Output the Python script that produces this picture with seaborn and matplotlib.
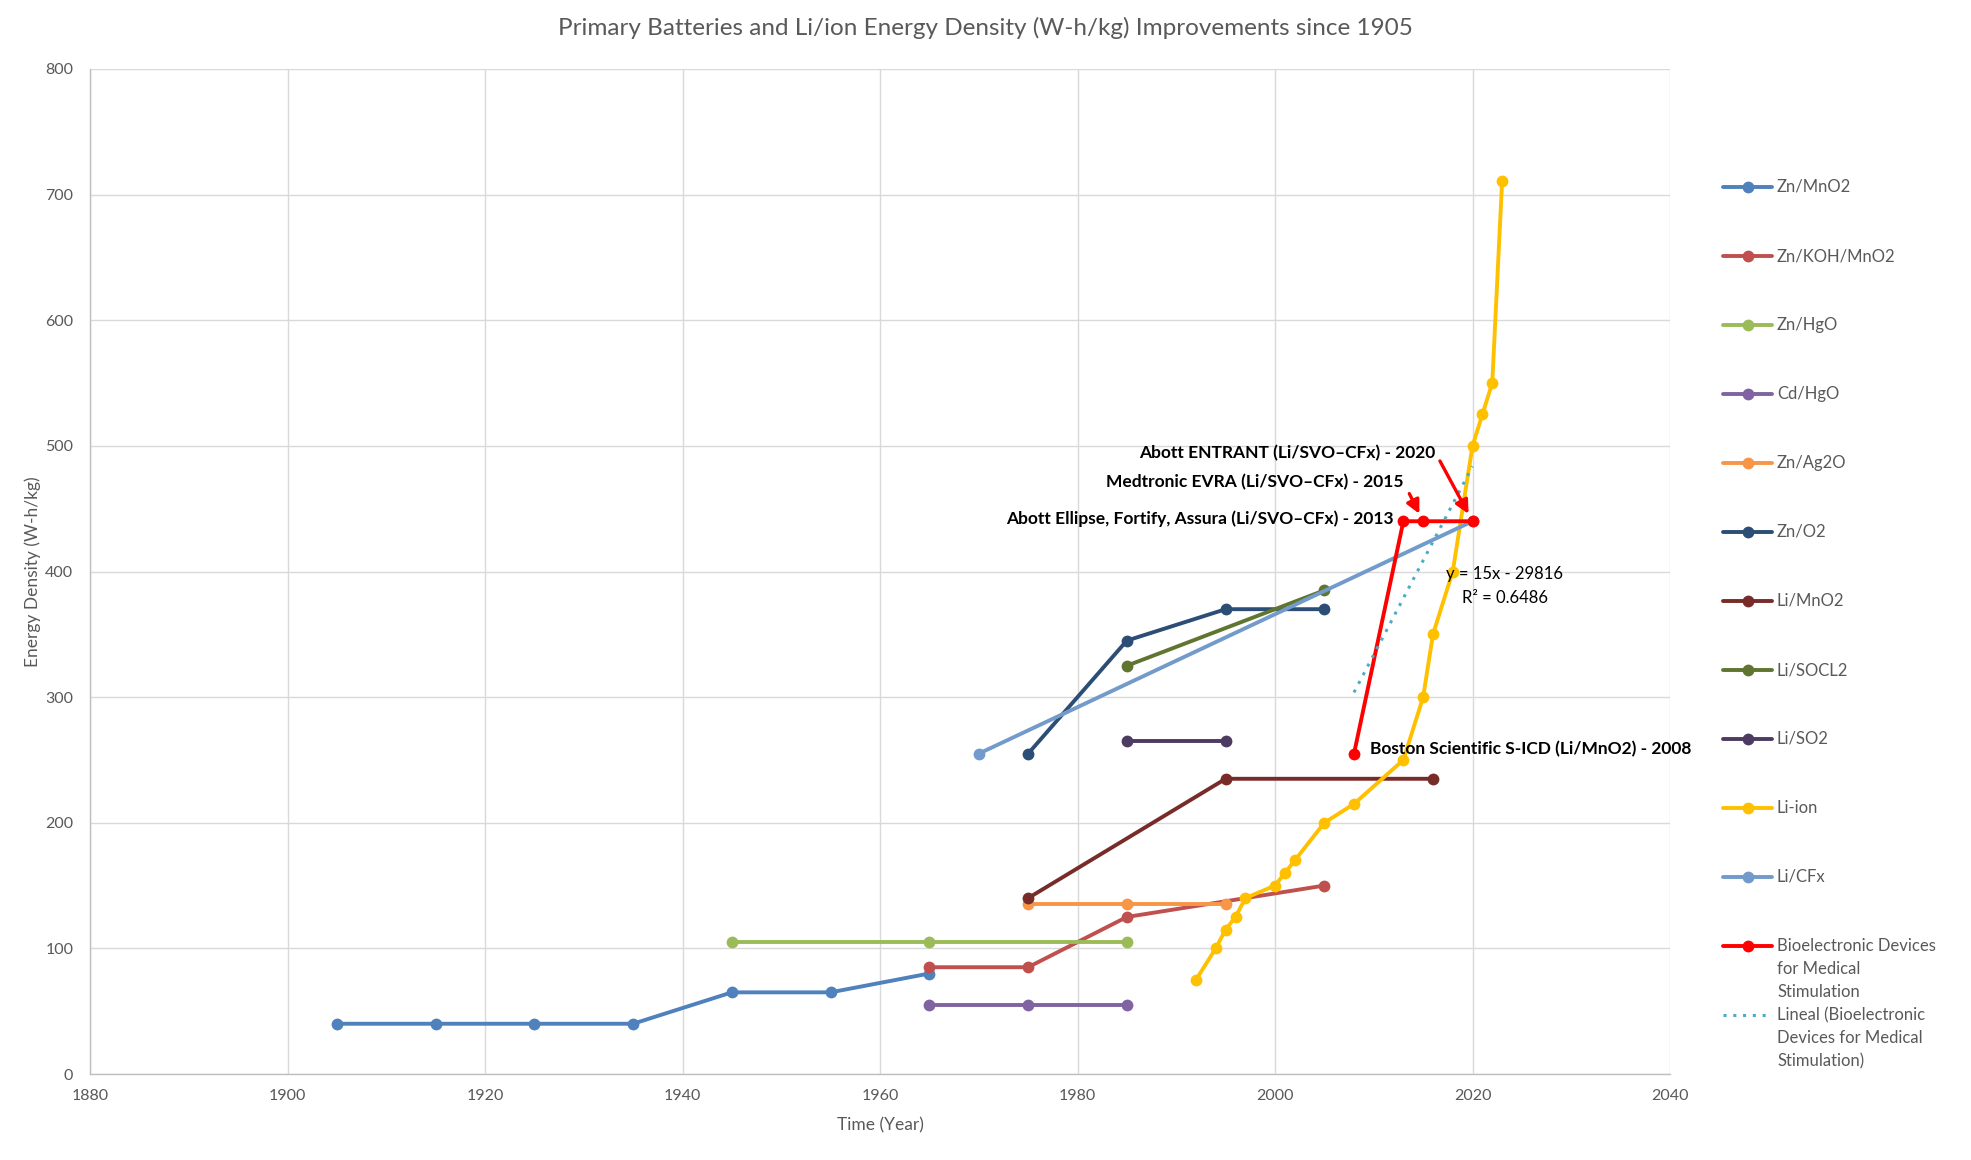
import numpy as np
import pandas as pd
import matplotlib
matplotlib.use("Agg")
import matplotlib.pyplot as plt
from matplotlib.lines import Line2D
import seaborn as sns

# ---------------- data ----------------
zn_mno2_x = [1905, 1915, 1925, 1935, 1945, 1955, 1965]
zn_mno2_y = [40, 40, 40, 40, 65, 65, 80]
zn_koh_x = [1965, 1975, 1985, 2005]
zn_koh_y = [85, 85, 125, 150]
zn_hgo_x = [1945, 1965, 1985]
zn_hgo_y = [105, 105, 105]
cd_hgo_x = [1965, 1975, 1985]
cd_hgo_y = [55, 55, 55]
zn_ag2o_x = [1975, 1985, 1995]
zn_ag2o_y = [135, 135, 135]
zn_o2_x = [1975, 1985, 1995, 2005]
zn_o2_y = [255, 345, 370, 370]
li_mno2_x = [1975, 1995, 2016]
li_mno2_y = [140, 235, 235]
li_socl2_x = [1985, 2005]
li_socl2_y = [325, 385]
li_so2_x = [1985, 1995]
li_so2_y = [265, 265]
li_ion_x = [1992, 1994, 1995, 1996, 1997, 2000, 2001, 2002, 2005, 2008, 2013,
            2015, 2016, 2018, 2020, 2021, 2022, 2023]
li_ion_y = [75, 100, 115, 125, 140, 150, 160, 170, 200, 215, 250,
            300, 350, 400, 500, 525, 550, 711]
li_cfx_x = [1970, 2020]
li_cfx_y = [255, 440]
bio_x = [2008, 2013, 2015, 2020]
bio_y = [255, 440, 440, 440]

series_names = ["Zn/MnO2", "Zn/KOH/MnO2", "Zn/HgO", "Cd/HgO", "Zn/Ag2O", "Zn/O2",
                "Li/MnO2", "Li/SOCL2", "Li/SO2", "Li-ion", "Li/CFx",
                "Bioelectronic Devices\nfor Medical\nStimulation"]
series_x = [zn_mno2_x, zn_koh_x, zn_hgo_x, cd_hgo_x, zn_ag2o_x, zn_o2_x,
            li_mno2_x, li_socl2_x, li_so2_x, li_ion_x, li_cfx_x, bio_x]
series_y = [zn_mno2_y, zn_koh_y, zn_hgo_y, cd_hgo_y, zn_ag2o_y, zn_o2_y,
            li_mno2_y, li_socl2_y, li_so2_y, li_ion_y, li_cfx_y, bio_y]
colors = ["#4F81BD", "#C0504D", "#9BBB59", "#8064A2", "#F79646", "#2C4D75",
          "#772C2A", "#5F7530", "#4D3B62", "#FFC000", "#729ACA", "#FF0000"]
trend_label = "Lineal (Bioelectronic\nDevices for Medical\nStimulation)"
trend_color = "#4BACC6"

annot_texts = ["Abott ENTRANT (Li/SVO\u2013CFx) - 2020",
               "Medtronic EVRA (Li/SVO\u2013CFx) - 2015",
               "Abott Ellipse, Fortify, Assura (Li/SVO\u2013CFx) - 2013",
               "Boston Scientific S-ICD (Li/MnO2) - 2008"]

# ---------------- style ----------------
sns.set_theme(style="white")
plt.rcParams["font.family"] = ["Lato", "DejaVu Sans"]
GREY = "#595959"

W, H = 1971, 1160
fig = plt.figure(figsize=(W / 100, H / 100), dpi=100)
ax = fig.add_axes([90 / W, 1 - 1074 / H, 1580 / W, 1005 / H])

rows = []
for name, xs, ys in zip(series_names, series_x, series_y):
    for i, (x, y) in enumerate(zip(xs, ys)):
        rows.append({"series": name, "year": x, "wh": y, "order": i})
df = pd.DataFrame(rows)
palette = dict(zip(series_names, colors))

sns.lineplot(data=df, x="year", y="wh", hue="series", hue_order=series_names,
             palette=palette, marker="o", markersize=8.5, markeredgewidth=0,
             linewidth=2.8, estimator=None, sort=False, legend=False, ax=ax)

# linear trendline for bioelectronic devices
slope, intercept = np.polyfit(bio_x, bio_y, 1)
pred = np.polyval([slope, intercept], bio_x)
r2 = 1 - np.sum((np.array(bio_y) - pred) ** 2) / np.sum((np.array(bio_y) - np.mean(bio_y)) ** 2)
tx = np.array([min(bio_x), max(bio_x)])
tdf = pd.DataFrame({"year": tx, "wh": slope * tx + intercept})
sns.lineplot(data=tdf, x="year", y="wh", color=trend_color, linewidth=2.2,
             linestyle=(0, (1, 2.2)), ax=ax, legend=False)

eqfam = ["Liberation Sans Narrow", "Lato", "DejaVu Sans"]
ax.text(2017.3, 398, f"y = {slope:.0f}x - {abs(intercept):.0f}", fontsize=12,
        color="black", ha="left", va="center", family=eqfam)
ax.text(2018.9, 379, f"R\u00b2 = {r2:.4f}", fontsize=12,
        color="black", ha="left", va="center", family=eqfam)

# annotations
bold = dict(fontsize=12.5, fontweight="bold", color="black")
ax.text(2016.2, 494, annot_texts[0], ha="right", va="center", **bold)
ax.text(2013.0, 471, annot_texts[1], ha="right", va="center", **bold)
ax.text(2012.0, 442, annot_texts[2], ha="right", va="center", **bold)
ax.text(2009.6, 259, annot_texts[3], ha="left", va="center", **bold)

arrow = dict(arrowstyle="-|>", color="#FF0000", lw=2.4, mutation_scale=20,
             shrinkA=0, shrinkB=6)
ax.annotate("", xy=(bio_x[3], bio_y[3]), xytext=(2016.7, 488), arrowprops=arrow)
ax.annotate("", xy=(bio_x[2], bio_y[2]), xytext=(2013.6, 462), arrowprops=arrow)

# axes
ax.set_xlim(1880, 2040)
ax.set_ylim(0, 800)
ax.set_xticks(np.arange(1880, 2041, 20))
ax.set_yticks(np.arange(0, 801, 100))
ax.grid(True, color="#D9D9D9", linewidth=1.0)
ax.set_axisbelow(True)
for s in ["top", "right"]:
    ax.spines[s].set_visible(False)
for s in ["left", "bottom"]:
    ax.spines[s].set_color("#BFBFBF")
    ax.spines[s].set_linewidth(1.0)
ax.tick_params(axis="both", length=0, labelsize=11.5, labelcolor=GREY)
ax.tick_params(axis="y", pad=12)
ax.tick_params(axis="x", pad=11)
ax.set_xlabel("Time (Year)", fontsize=12.5, color=GREY, labelpad=10)
ax.set_ylabel("Energy Density (W-h/kg)", fontsize=12.5, color=GREY)
ax.yaxis.set_label_coords(-0.031, 0.5)

fig.text(0.5, 1 - 28 / H,
         "Primary Batteries and Li/ion Energy Density (W-h/kg) Improvements since 1905",
         ha="center", va="center", fontsize=17.5, color=GREY)

# legend (manual, Excel-like)
labels = series_names + [trend_label]
lcols = colors + [trend_color]
for i, (lab, col) in enumerate(zip(labels, lcols)):
    ypx = 187 + 69 * i
    yf = 1 - ypx / H
    if i < len(series_names):
        fig.add_artist(Line2D([1723 / W, 1772 / W], [yf, yf], color=col, lw=2.8,
                              transform=fig.transFigure))
        fig.add_artist(Line2D([1747.5 / W], [yf], color=col, marker="o", markersize=8.5,
                              markeredgewidth=0, transform=fig.transFigure))
    else:
        fig.add_artist(Line2D([1723 / W, 1772 / W], [yf, yf], color=col, lw=2.2,
                              linestyle=(0, (1, 2.2)), transform=fig.transFigure))
    for k, line in enumerate(lab.split("\n")):
        fig.text(1777 / W, 1 - (ypx + 23 * k) / H, line, ha="left", va="center",
                 fontsize=12, color=GREY)

fig.savefig("out.png", dpi=100)
